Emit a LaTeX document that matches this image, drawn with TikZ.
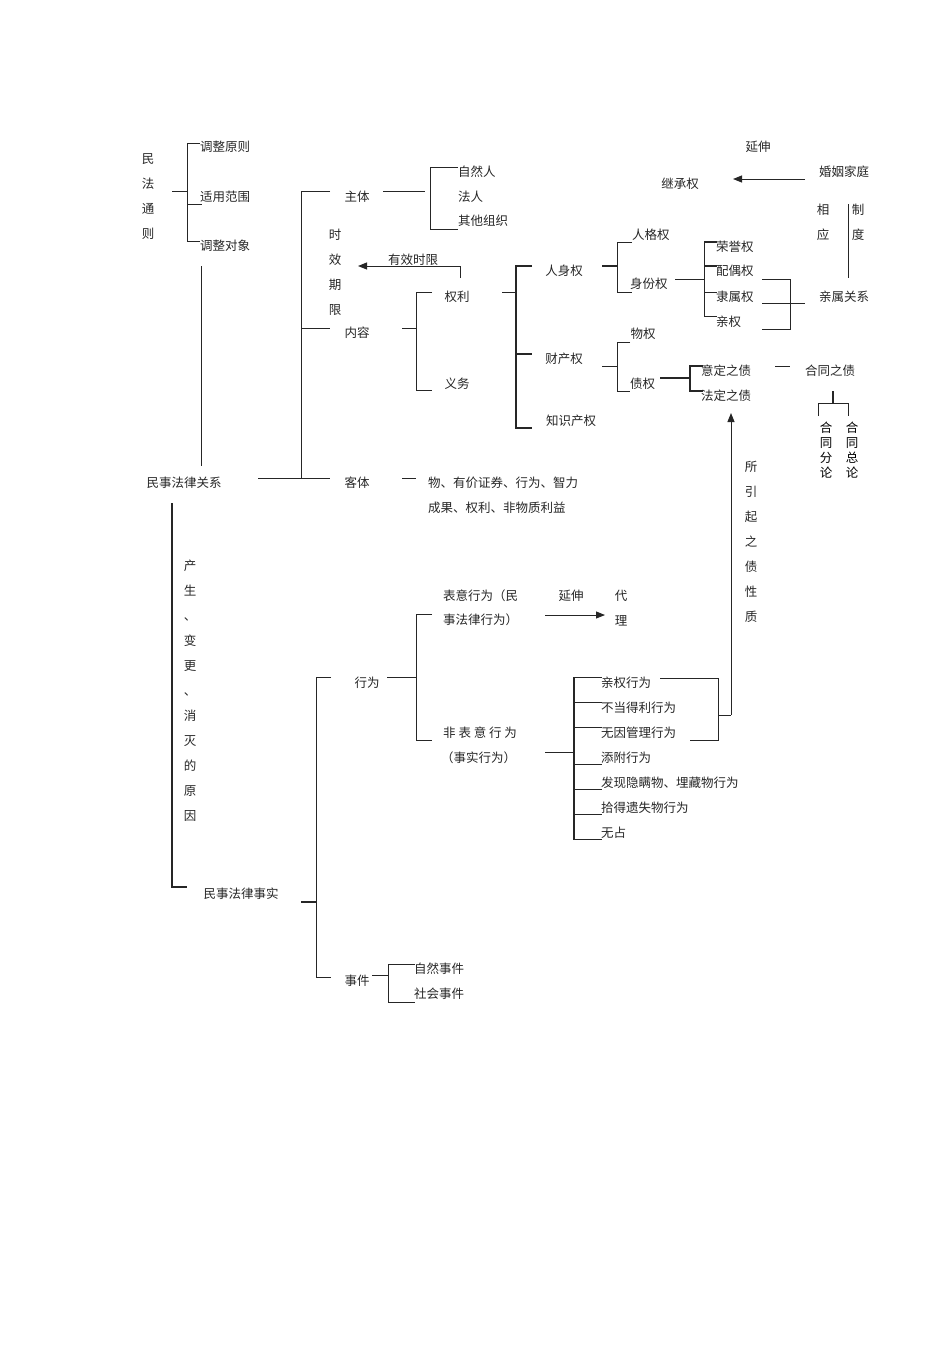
\documentclass[tikz,border=0pt]{standalone}
\usepackage{fontspec}
\newfontfamily\cjk{Noto Sans CJK SC}
\usetikzlibrary{arrows.meta}
\begin{document}
\begin{tikzpicture}[x=1pt,y=-1pt,
  t/.style={font={\cjk\fontsize{12.5}{25}\selectfont},inner sep=0pt,text=black!85},
  tl/.style={t,anchor=west},
  v/.style={t,align=center},
  vt/.style={font={\cjk\fontsize{12.5}{15}\selectfont},inner sep=0pt,align=center},
  ln/.style={line width=1pt,black!85},
  tk/.style={line width=1.6pt,black!85},
  ar/.style={ln,-{Triangle[length=9pt,width=7pt]}}]
\useasboundingbox (0,0) rectangle (950,1345);
% 民法通则
\node[v] (mftz) at (148,197) {民\\法\\通\\则};
\draw[ln] (172,191)--(187,191);
\draw[ln] (200,143)--(187,143)--(187,241)--(200,241); \draw[ln] (187,204)--(202,204);
\node[tl] (tzyz) at (200,147) {调整原则};
\node[tl] (syfw) at (200,197) {适用范围};
\node[tl] (tzdx) at (200,246) {调整对象};
\draw[ln] (201,266)--(201,466);
% 民事法律关系
\node[t] (msgx) at (184,483) {民事法律关系};
\draw[ln] (258,478)--(330,478);
\draw[ln] (330,191)--(301,191)--(301,478); \draw[ln] (301,328)--(330,328);
\node[t] (zt) at (357,197) {主体};
\node[t] (nr) at (357,333) {内容};
\node[t] (kt) at (357,483) {客体};
\draw[ln] (383,191)--(425,191);
\draw[ln] (458,167)--(430,167)--(430,229)--(458,229);
\node[tl] at (458,172) {自然人};
\node[tl] at (458,197) {法人};
\node[tl] at (458,221) {其他组织};
\node[v] (sxqx) at (335,272) {时\\效\\期\\限};
\draw[ar] (460,278)--(460,266)--(358,266);
\node[t] at (413,260) {有效时限};
\draw[ln] (402,328)--(416,328);
\draw[ln] (432,292)--(416,292)--(416,390)--(432,390);
\node[t] (ql) at (457,297) {权利};
\node[t] (yw) at (457,384) {义务};
\draw[ln] (502,292)--(516,292);
\draw[tk] (532,266)--(516,266)--(516,428)--(532,428); \draw[tk] (516,354)--(532,354);
\node[t] (rsq) at (564,271) {人身权};
\node[t] (ccq) at (564,359) {财产权};
\node[t] (zscq) at (571,421) {知识产权};
\draw[tk] (602,266)--(617,266);
\draw[ln] (632,242)--(617,242)--(617,292)--(632,292);
\node[tl] at (632,235) {人格权};
\node[tl] (sfq) at (630,284) {身份权};
\draw[ln] (675,279)--(704,279);
\draw[ln] (717,242)--(704,242)--(704,316)--(717,316);
\draw[tk] (704,242)--(717,242); \draw[tk] (704,266)--(717,266); \draw[ln] (704,292)--(717,292);
\node[tl] at (716,247) {荣誉权};
\node[tl] at (716,271) {配偶权};
\node[tl] at (716,297) {隶属权};
\node[tl] at (716,322) {亲权};
\draw[ln] (762,279)--(790,279)--(790,329)--(762,329); \draw[ln] (762,303)--(805,303);
\node[t] (qsgx) at (844,297) {亲属关系};
\draw[ln] (848,204)--(848,278);
\node[v] at (823,222) {相\\应};
\node[v] at (858,222) {制\\度};
\node[t] (hyjt) at (844,172) {婚姻家庭};
\node[t] (jcq) at (680,184) {继承权};
\draw[ar] (805,179)--(733,179);
\node[t] at (758,147) {延伸};
\draw[ln] (602,366)--(617,366);
\draw[ln] (630,342)--(617,342)--(617,391)--(630,391);
\node[t] at (643,334) {物权};
\node[tl] at (630,384) {债权};
\draw[tk] (660,378)--(690,378);
\draw[tk] (703,366)--(690,366)--(690,391)--(703,391);
\node[tl] at (701,371) {意定之债};
\node[tl] (fdzz) at (701,396) {法定之债};
\draw[ln] (775,366)--(790,366);
\node[t] (htzz) at (830,371) {合同之债};
\draw[tk] (833,391)--(833,403);
\draw[ln] (818,416)--(818,403)--(848,403)--(848,416);
\node[vt,anchor=north] at (826,422) {合\\同\\分\\论};
\node[vt,anchor=north] at (852,422) {合\\同\\总\\论};
\node[v,anchor=north] at (751,461) {所\\引\\起\\之\\债\\性\\质};
\draw[ar] (731,715)--(731,413);
% 客体
\draw[ln] (402,478)--(416,478);
\node[tl] at (428,483) {物、有价证券、行为、智力};
\node[tl] at (428,508) {成果、权利、非物质利益};
% 法律事实
\draw[tk] (172,503)--(172,887)--(187,887);
\node[v,anchor=north] at (190,560) {产\\生\\、\\变\\更\\、\\消\\灭\\的\\原\\因};
\node[t] (msss) at (241,894) {民事法律事实};
\draw[tk] (301,902)--(316,902);
\draw[ln] (331,677)--(316,677)--(316,977)--(331,977);
\node[t] (xw) at (367,683) {行为};
\node[t] (sj) at (357,981) {事件};
\draw[ln] (387,677)--(416,677);
\draw[ln] (432,614)--(416,614)--(416,740)--(432,740);
\node[tl] at (443,596) {表意行为（民};
\node[tl] at (443,620) {事法律行为）};
\node[t] at (571,596) {延伸};
\draw[ar] (545,615)--(605,615);
\node[v] at (621,608) {代\\理};
\node[tl] at (443,733) {非\ 表\ 意\ 行\ 为};
\node[tl] at (441,758) {（事实行为）};
\draw[ln] (545,752)--(574,752);
\draw[tk] (574,677)--(574,840);
\foreach \y in {677,702,727,764,789,814,839} \draw[ln] (574,\y)--(602,\y);
\node[tl] at (601,683) {亲权行为};
\node[tl] at (601,708) {不当得利行为};
\node[tl] at (601,733) {无因管理行为};
\node[tl] at (601,758) {添附行为};
\node[tl] at (601,783) {发现隐瞒物、埋藏物行为};
\node[tl] at (601,808) {拾得遗失物行为};
\node[tl] at (601,833) {无占};
\draw[ln] (660,678)--(718,678)--(718,740)--(690,740); \draw[ln] (718,715)--(731,715);
\draw[ln] (372,975)--(388,975);
\draw[ln] (415,964)--(388,964)--(388,1002)--(415,1002);
\node[tl] at (414,969) {自然事件};
\node[tl] at (414,994) {社会事件};
\end{tikzpicture}
\end{document}
